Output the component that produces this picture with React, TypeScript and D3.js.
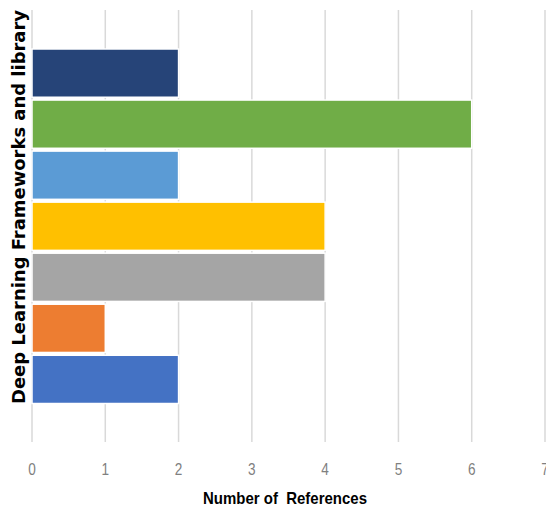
import React from "react";
import * as d3 from "d3";

const categories = ["F1", "F2", "F3", "F4", "F5", "F6", "F7"];
const values = [2, 6, 2, 4, 4, 1, 2];
const colors = ["#264478", "#70AD47", "#5B9BD5", "#FFC000", "#A5A5A5", "#ED7D31", "#4472C4"];
const xTicks = [0, 1, 2, 3, 4, 5, 6, 7];

export default function App() {
  const W = 546, H = 510;
  const x = d3.scaleLinear().domain([0, 7]).range([32, 545]);
  const y = d3.scaleBand<string>().domain(categories).range([49, 403.5]).paddingInner(0.055).paddingOuter(0);
  const gridTop = 10, gridBottom = 442;
  return (
    <svg width={W} height={H} style={{ position: "absolute", left: 0, top: 0, background: "#fff" }}>
      {xTicks.map((t) => (
        <line key={t} x1={x(t)} x2={x(t)} y1={gridTop} y2={gridBottom} stroke="#d9d9d9" strokeWidth={1.5} />
      ))}
      {categories.map((c, i) => (
        <rect key={c} x={x(0)} y={y(c)} width={x(values[i]) - x(0)} height={y.bandwidth()}
          fill={colors[i]} stroke="#fff" strokeWidth={1.5} />
      ))}
      {xTicks.map((t) => (
        <text key={t} x={x(t)} y={475} textAnchor="middle" fontSize={17}
          fontFamily="'Liberation Sans', sans-serif" fill="#808080"
          transform={`translate(${x(t)},0) scale(0.8,1) translate(${-x(t)},0)`}>{t}</text>
      ))}
      <text x={285} y={504} textAnchor="middle" fontSize={17} fontWeight="bold"
        fontFamily="'Liberation Sans', sans-serif" fill="#000" style={{ whiteSpace: "pre" }}
        textLength={164} lengthAdjust="spacingAndGlyphs">Number of  References</text>
      <text transform={`translate(25,${207}) rotate(-90)`} textAnchor="middle" fontSize={17} fontWeight="bold"
        fontFamily="'DejaVu Sans', sans-serif" fill="#000"
        textLength={394} lengthAdjust="spacingAndGlyphs">Deep Learning Frameworks and library</text>
    </svg>
  );
}
